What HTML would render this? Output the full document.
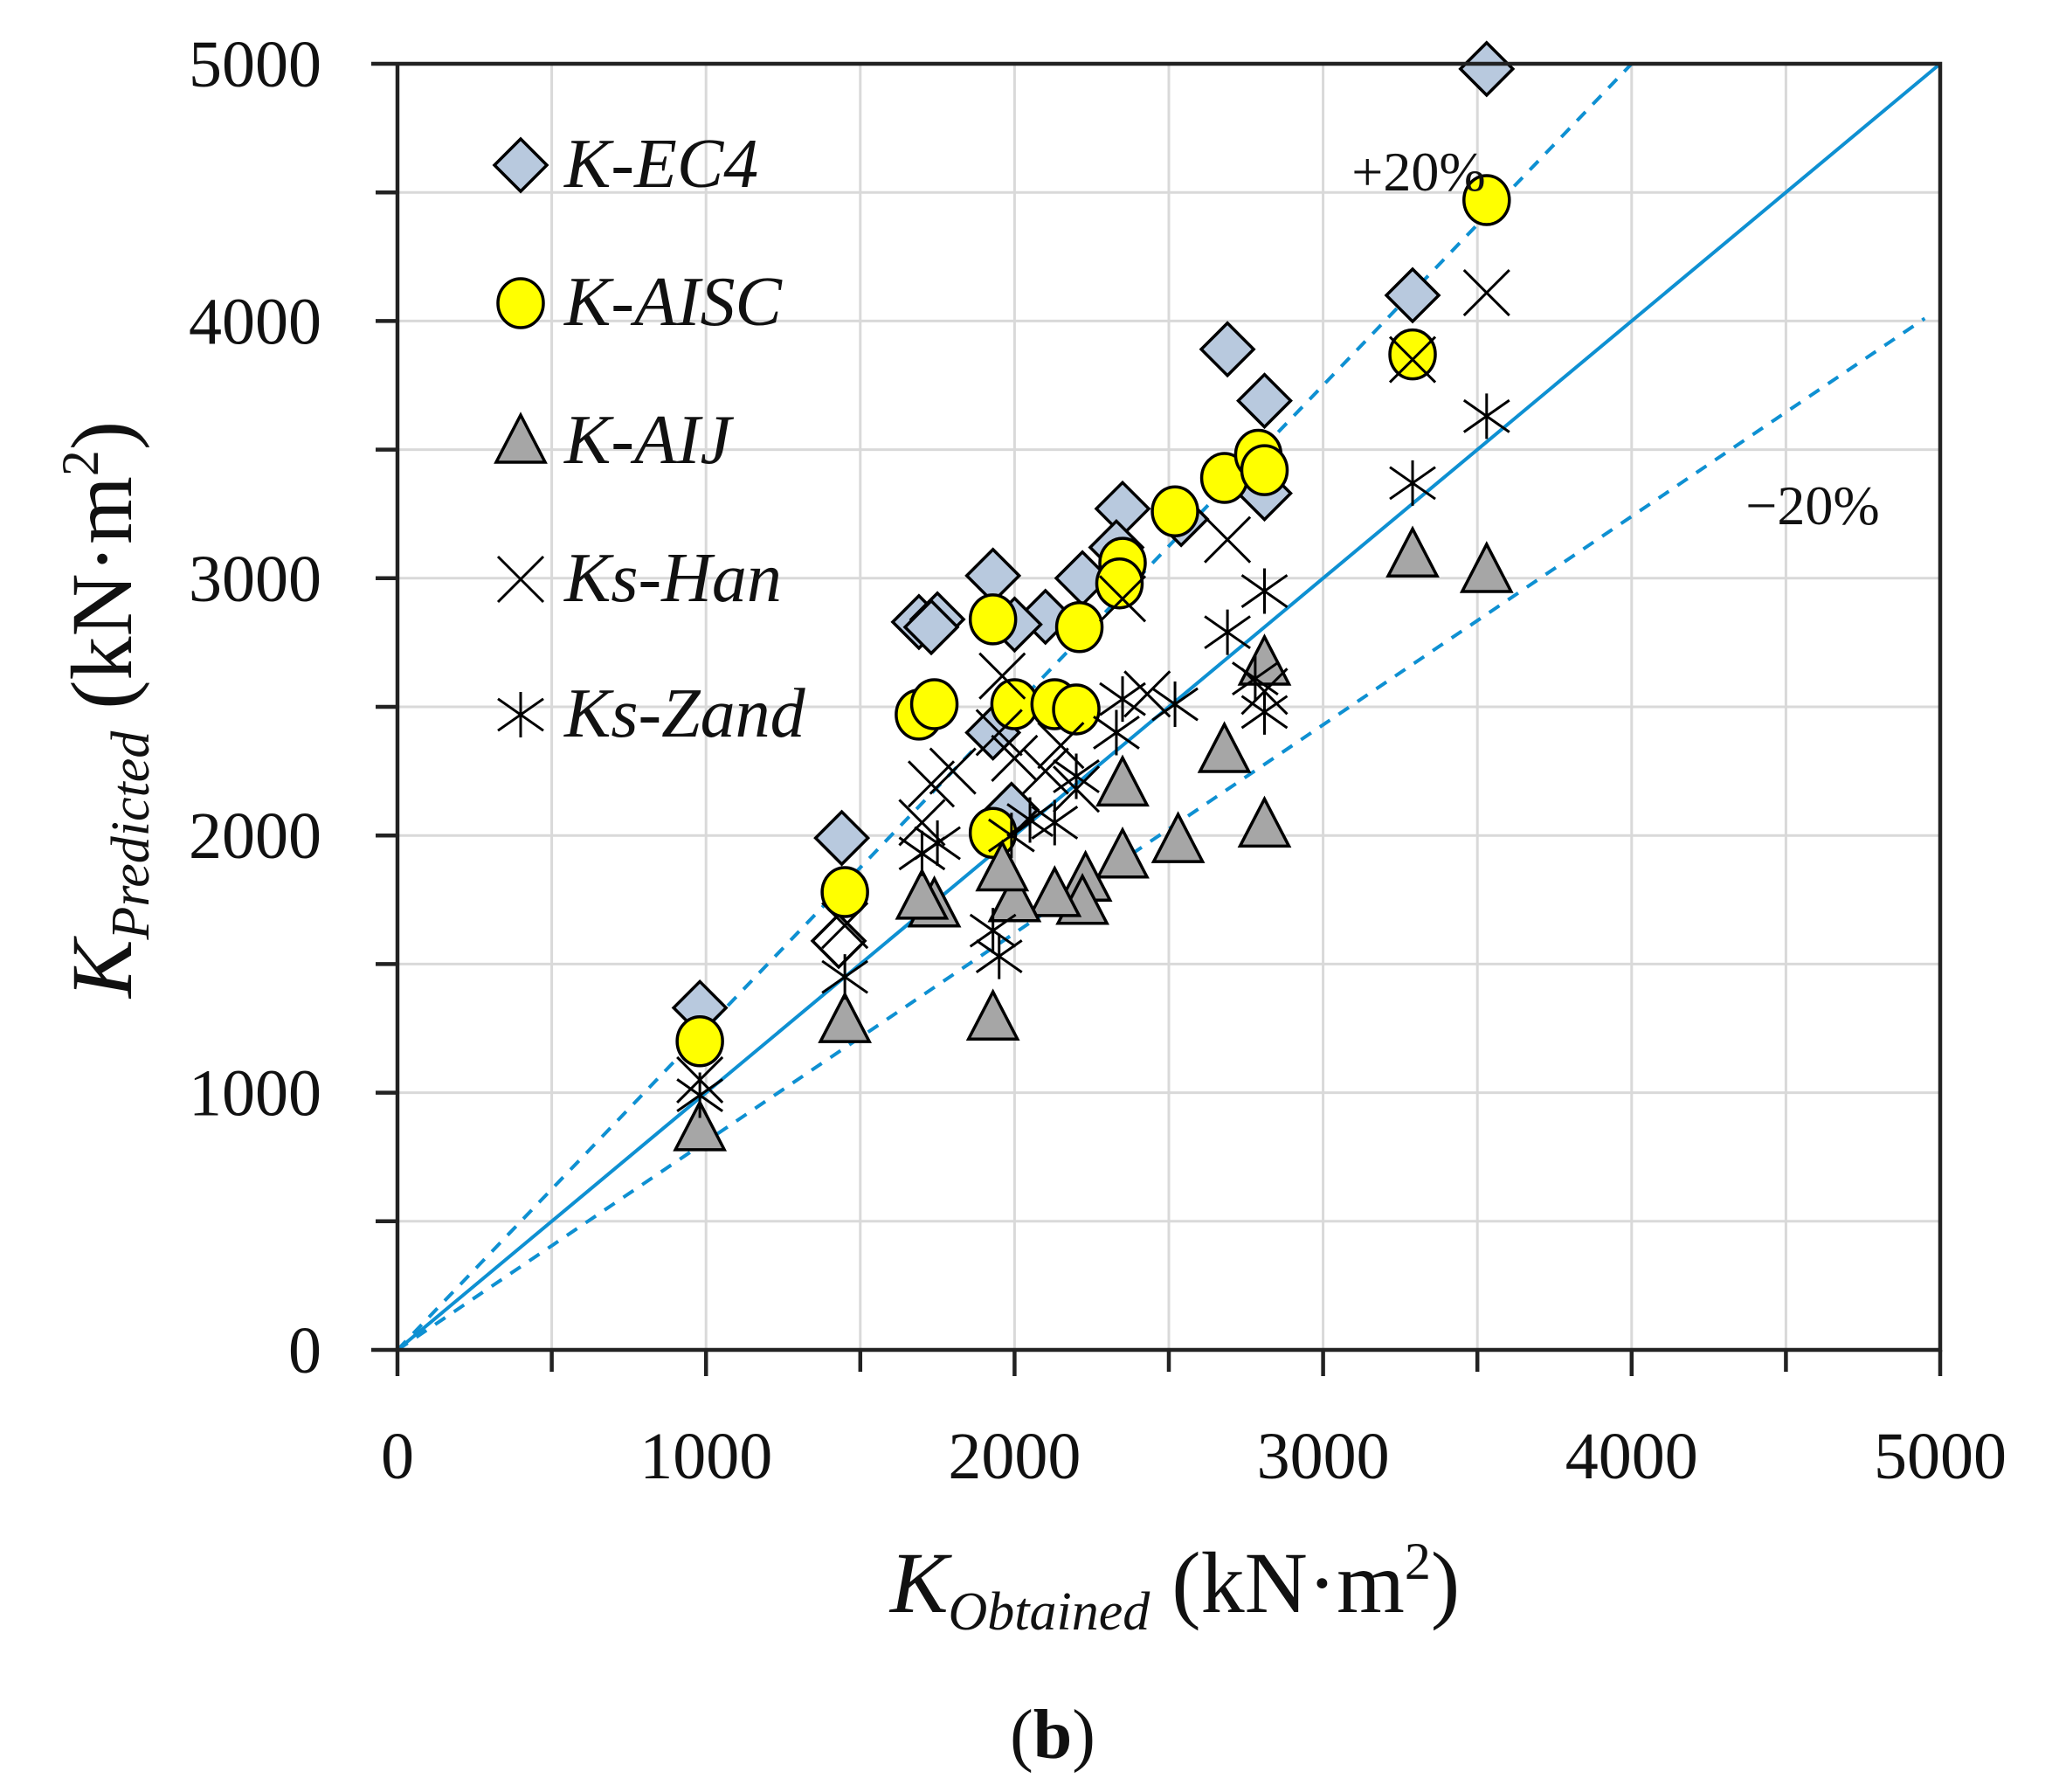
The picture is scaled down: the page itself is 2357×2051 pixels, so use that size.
<!DOCTYPE html>
<html><head><meta charset="utf-8"><style>
html,body{margin:0;padding:0;background:#fff}
svg{display:block}
text{font-family:"Liberation Serif",serif;fill:#111}
</style></head><body>
<svg id="s" width="2357" height="2051" viewBox="0 0 2357 2051" xmlns="http://www.w3.org/2000/svg">
<g id="grid" stroke="#d9d9d9" stroke-width="3"></g>
<g id="lines" fill="none" stroke="#0e90d2" stroke-width="4"></g>
<g id="pts" stroke="#000" stroke-width="3.5"></g>
<g id="axes" stroke="#222" stroke-width="4.5" fill="none"></g>
<g id="lbl" font-size="76"></g>
<text x="1624" y="218" font-size="64" text-anchor="middle">+20%</text>
<text x="2075" y="600" font-size="64" text-anchor="middle">−20%</text>
<g font-size="80" font-style="italic">
<text x="646" y="214">K-EC4</text>
<text x="646" y="372">K-AISC</text>
<text x="646" y="530">K-AIJ</text>
<text x="646" y="688">Ks-Han</text>
<text x="646" y="843">Ks-Zand</text>
</g>
<text x="1345" y="1845" text-anchor="middle" font-size="100"><tspan font-style="italic">K</tspan><tspan font-style="italic" font-size="62" dy="20">Obtained</tspan><tspan dy="-20">  (kN·m</tspan><tspan font-size="60" dy="-38">2</tspan><tspan dy="38">)</tspan></text>
<text transform="translate(150,812) rotate(-90)" text-anchor="middle" font-size="100"><tspan font-style="italic">K</tspan><tspan font-style="italic" font-size="62" dy="20">Predicted</tspan><tspan dy="-20"> (kN·m</tspan><tspan font-size="60" dy="-38">2</tspan><tspan dy="38">)</tspan></text>
<text x="1205" y="2012" text-anchor="middle" font-size="80">(<tspan font-weight="bold">b</tspan>)</text>
</svg>
<script>
const NS="http://www.w3.org/2000/svg";
const X0=455,X1=2221,Y0=1545,Y1=73;
const px=v=>X0+v/5000*(X1-X0), py=v=>Y0-v/5000*(Y0-Y1);
function el(g,t,a){const e=document.createElementNS(NS,t);for(const k in a)e.setAttribute(k,a[k]);document.getElementById(g).appendChild(e);return e;}
for(let v=500;v<=5000;v+=500){
 el("grid","line",{x1:px(v),y1:Y1,x2:px(v),y2:Y0});
 el("grid","line",{x1:X0,y1:py(v),x2:X1,y2:py(v)});
}
el("lines","line",{x1:px(0),y1:py(0),x2:px(5000),y2:py(5000)});
el("lines","line",{x1:px(0),y1:py(0),x2:px(4000),y2:py(5000),"stroke-dasharray":"14 12"});
el("lines","line",{x1:px(0),y1:py(0),x2:px(4950),y2:py(4010),"stroke-dasharray":"14 12"});
el("axes","path",{d:`M${X0-30} ${Y1}H${X1}V${Y0}H${X0-30}M${X0} ${Y1}V${Y0}`});
for(let v=0;v<=5000;v+=500){
 el("axes","line",{x1:px(v),y1:Y0,x2:px(v),y2:Y0+(v%1000==0?30:25)});
 if(v>0&&v<5000) el("axes","line",{x1:X0-25,y1:py(v),x2:X0,y2:py(v)});
}
for(let v=0;v<=5000;v+=1000){
 const t=el("lbl","text",{x:px(v),y:1692,"text-anchor":"middle"});t.textContent=v;
 const u=el("lbl","text",{x:368,y:py(v)+26,"text-anchor":"end"});u.textContent=v;
}
function diamond(x,y,f){const r=30;el("pts","path",{d:`M${x} ${y-r}L${x+r} ${y}L${x} ${y+r}L${x-r} ${y}Z`,fill:f||"#b8c9de"});}
function circ(x,y){el("pts","ellipse",{cx:x,cy:y,rx:26,ry:28,fill:"#ffff00"});}
function tri(x,y){el("pts","path",{d:`M${x} ${y-30}L${x+28} ${y+24}L${x-28} ${y+24}Z`,fill:"#a6a6a6"});}
function cross(x,y){const r=26;el("pts","path",{d:`M${x-r} ${y-r}L${x+r} ${y+r}M${x+r} ${y-r}L${x-r} ${y+r}`,fill:"none","stroke-width":3});}
function star(x,y){const r=26;el("pts","path",{d:`M${x-r} ${y-r*0.7}L${x+r} ${y+r*0.7}M${x+r} ${y-r*0.7}L${x-r} ${y+r*0.7}M${x} ${y-r}L${x} ${y+r}`,fill:"none","stroke-width":3});}
const EC4=[[3530,4980],[3290,4100],[2690,3890],[2810,3690],[2350,3270],[2810,3330],[2540,3230],[2330,3120],[2220,3000],[1930,3010],[1690,2830],[1750,2840],[1730,2810],[2100,2850],[2000,2820],[1440,1990],[980,1330],[1930,2400],[1990,2100]];
const AISC=[[3530,4470],[3290,3870],[2680,3390],[2790,3480],[2810,3420],[2520,3260],[2350,3060],[2340,2980],[2210,2810],[1930,2840],[1690,2470],[1740,2510],[2000,2510],[2130,2510],[2200,2490],[1930,2010],[1450,1780],[980,1200]];
const AIJ=[[3290,3090],[3530,3030],[2680,2330],[2810,2670],[2810,2040],[2530,1980],[2350,2200],[2350,1920],[2230,1830],[2220,1740],[2130,1770],[2000,1750],[1960,1870],[1930,1290],[1740,1730],[1700,1760],[1450,1280],[980,860]];
const HAN=[[3530,4110],[3290,3850],[2690,3150],[2350,2920],[2810,2560],[1960,2620],[2150,2350],[1700,2050],[1730,2200],[1800,2250],[2000,2300],[2100,2250],[1450,1650],[980,1050],[2430,2550],[1950,2400],[2200,2180]];
const ZAND=[[3530,3630],[3290,3370],[2810,2950],[2690,2790],[2780,2610],[2520,2510],[2350,2530],[2330,2400],[1930,1630],[1950,1530],[2130,2050],[2050,2060],[1990,2000],[1700,1930],[1750,1970],[1450,1450],[980,990],[2200,2230],[2810,2480]];
EC4.forEach(p=>diamond(px(p[0]),py(p[1])));
diamond(px(1430),py(1590),"#fff");
AISC.forEach(p=>circ(px(p[0]),py(p[1])));
AIJ.forEach(p=>tri(px(p[0]),py(p[1])));
HAN.forEach(p=>cross(px(p[0]),py(p[1])));
ZAND.forEach(p=>star(px(p[0]),py(p[1])));
diamond(596,189);circ(596,347);tri(596,505);cross(596,663);star(596,818);
</script>
</body></html>
